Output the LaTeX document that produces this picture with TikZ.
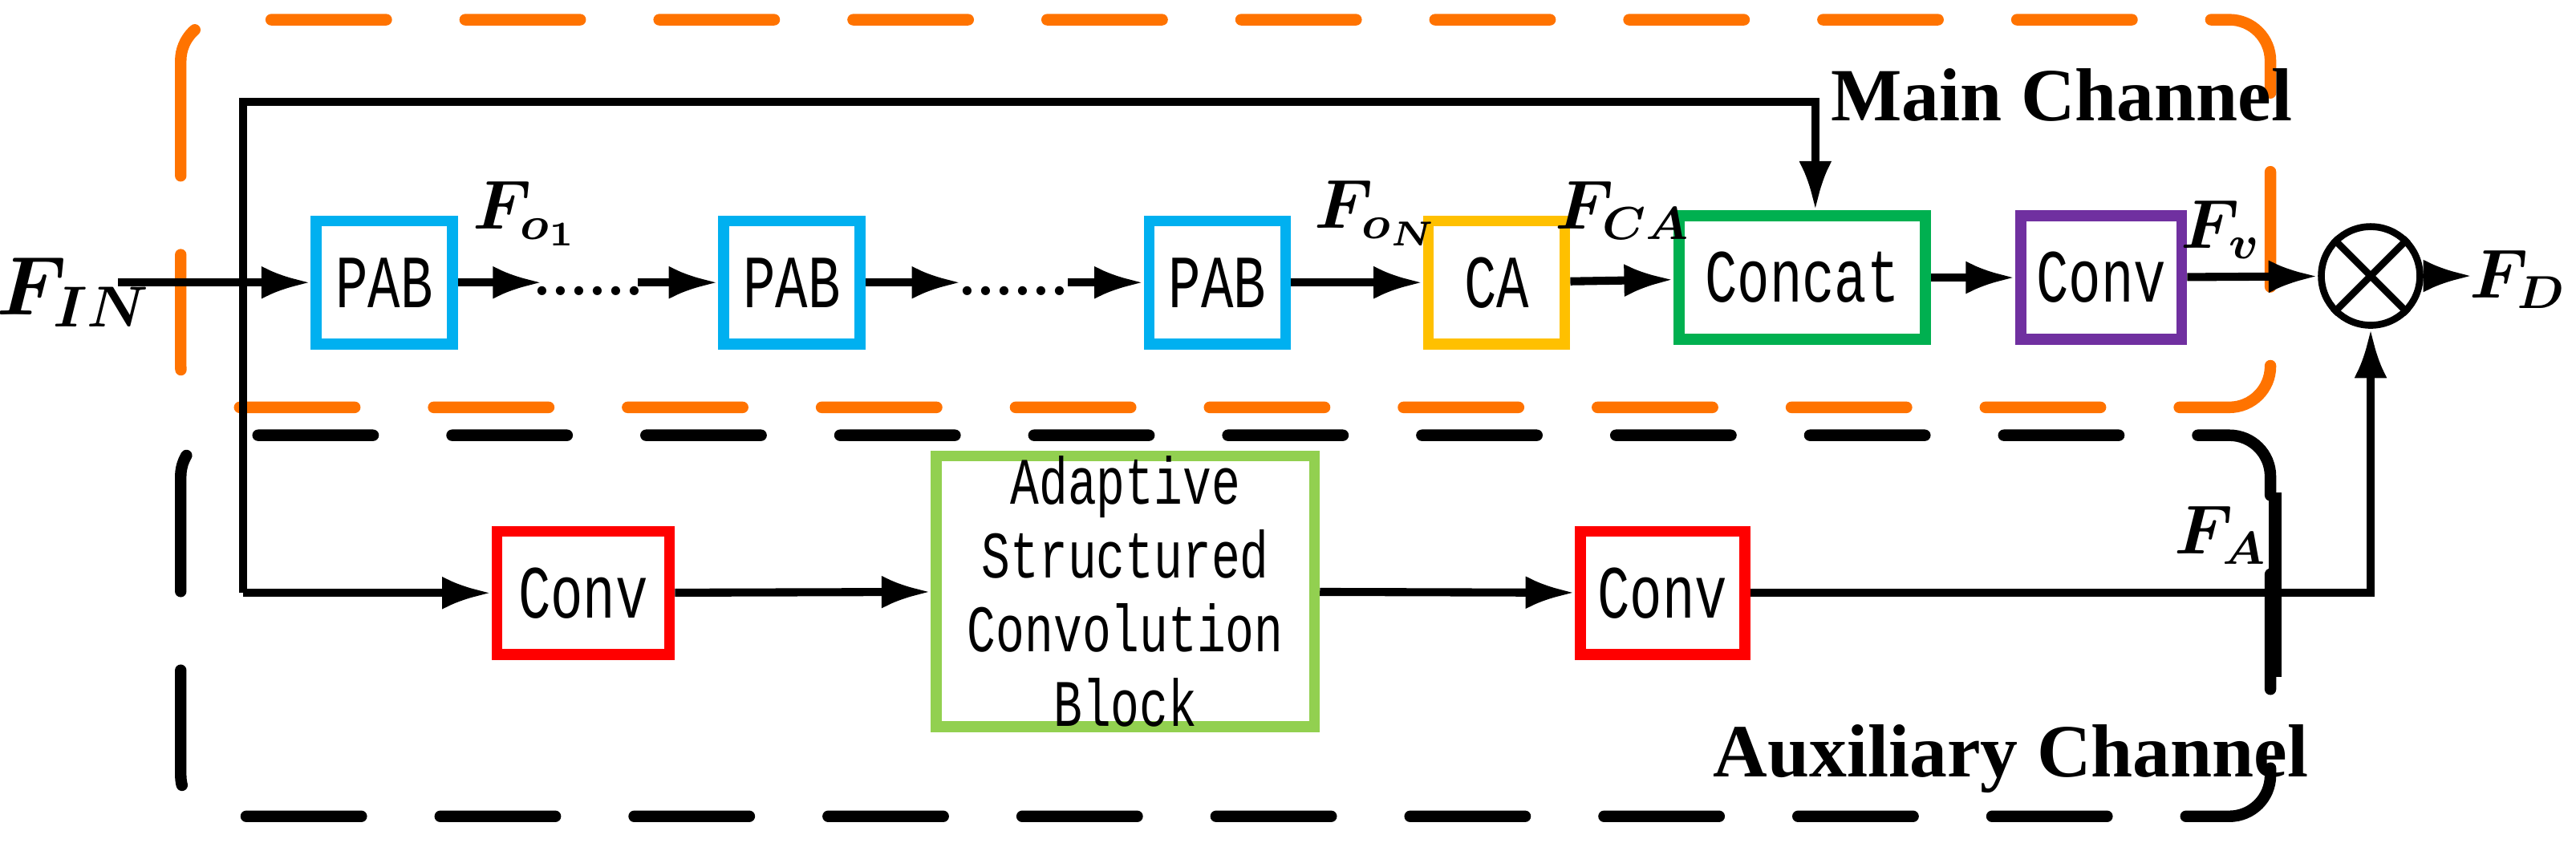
\documentclass[tikz,border=0pt]{standalone}
\usepackage{fontspec}
\usepackage{amsmath,bm}
\newfontfamily\boxfont[FakeStretch=0.72]{Liberation Mono}
\newfontfamily\chanfont{Liberation Serif}
\usetikzlibrary{arrows.meta}
\definecolor{ora}{RGB}{255,115,0}
\definecolor{pblue}{RGB}{0,176,240}
\definecolor{cayel}{RGB}{255,192,0}
\definecolor{cgreen}{RGB}{0,176,80}
\definecolor{cpurp}{RGB}{112,48,160}
\definecolor{lgreen}{RGB}{146,208,80}
\begin{document}
\begin{tikzpicture}[x=0.01cm,y=-0.01cm,
 blk/.style={draw=#1,line width=1.9pt,minimum width=0.8cm,minimum height=0.7cm,inner sep=0pt,font=\boxfont\fontsize{13}{15}\selectfont},
 chan/.style={line width=2pt,rounded corners=0.25cm,line cap=round,dash pattern=on 0.7cm off 0.48cm},
 arr/.style={line width=1.4pt,-{Latex[length=0.3cm,width=0.2cm]}},
 lab/.style={font=\large}]
\useasboundingbox (0,0) rectangle (1568,518);
\draw[chan,draw=ora] (110,12) rectangle (1382,248);
\draw[chan,draw=black] (110,265) rectangle (1382,497);
\node[font=\chanfont\bfseries\fontsize{13}{15}\selectfont] (mc) at (1255,58) {Main Channel};
\node[font=\chanfont\bfseries\fontsize{13}{15}\selectfont] (ac) at (1224,462) {Auxiliary Channel};

\node[font=\Large] (fin) at (45,178) {$\bm{F_{IN}}$};
\node[blk=pblue,minimum width=0.83cm,minimum height=0.75cm] (p1) at (234,172) {PAB};
\node[blk=pblue,minimum width=0.83cm,minimum height=0.75cm] (p2) at (482,172) {PAB};
\node[blk=pblue,minimum width=0.83cm,minimum height=0.75cm] (p3) at (741,172) {PAB};
\node[blk=cayel,minimum width=0.83cm,minimum height=0.75cm] (ca) at (911,172) {CA};
\node[blk=cgreen,minimum width=1.5cm,minimum height=0.75cm] (cc) at (1097,169) {Concat};
\node[blk=cpurp,minimum width=0.98cm,minimum height=0.75cm] (cv) at (1279,169) {Conv};
\node[draw,circle,line width=1.2pt,minimum size=0.6cm,inner sep=0pt] (x) at (1443,168) {};
\draw[line width=1.2pt] (x.north west)--(x.south east) (x.north east)--(x.south west);

\coordinate (d1a) at (330,172); \coordinate (d1b) at (388,172);
\coordinate (d2a) at (585,172); \coordinate (d2b) at (650,172);
\node (dots1) at (358,177) {\textbf{......}};
\node (dots2) at (617,177) {\textbf{......}};
\coordinate (fs) at (72,172);
\draw[arr] (fs) -- (p1);
\draw[arr] (p1) -- (d1a);
\draw[arr] (d1b) -- (p2);
\draw[arr] (p2) -- (d2a);
\draw[arr] (d2b) -- (p3);
\draw[arr] (p3) -- (ca);
\draw[arr] (ca) -- (cc);
\draw[arr] (cc) -- (cv);
\draw[arr] (cv) -- (x);
\coordinate (fd) at (1505,168);
\draw[arr] (x) -- (fd);

\node[lab] (fo1) at (320,130) {$\bm{F_{o_1}}$};
\node[lab] (fon) at (838,130) {$\bm{F_{o_N}}$};
\node[lab] (fca) at (988,128) {$\bm{F_{CA}}$};
\node[lab] (fv) at (1352,140) {$\bm{F_{v}}$};
\node[lab] (fdl) at (1533,170) {$\bm{F_{D}}$};

\node[blk=red,minimum width=1.05cm,minimum height=0.75cm] (c1) at (355,361) {Conv};
\node[blk=lgreen,minimum width=2.3cm,minimum height=1.64cm,align=center,font=\boxfont\fontsize{11.5}{12.8}\selectfont] (as) at (685,360) {Adaptive\\Structured\\Convolution\\Block};
\node[blk=red,minimum width=1.0cm,minimum height=0.75cm] (c2) at (1012,361) {Conv};

\coordinate (s0) at (148,62);
\coordinate (s1) at (1105,62);
\coordinate (s2) at (148,361);
\draw[arr] (s2) -- (s0) -- (s1) -- (cc.north -| s1);
\draw[arr] (s2) -- (c1);
\draw[arr] (c1) -- (as);
\draw[arr] (as) -- (c2);
\coordinate (cr) at (1443,361);
\draw[arr] (c2) -- (cr) -- (x);
\coordinate (t1) at (1385,300); \coordinate (t2) at (1385,412);
\draw[line width=2.2pt] (t1) -- (t2);
\node[lab] (fa) at (1352,326) {$\bm{F_{A}}$};
\end{tikzpicture}
\end{document}
